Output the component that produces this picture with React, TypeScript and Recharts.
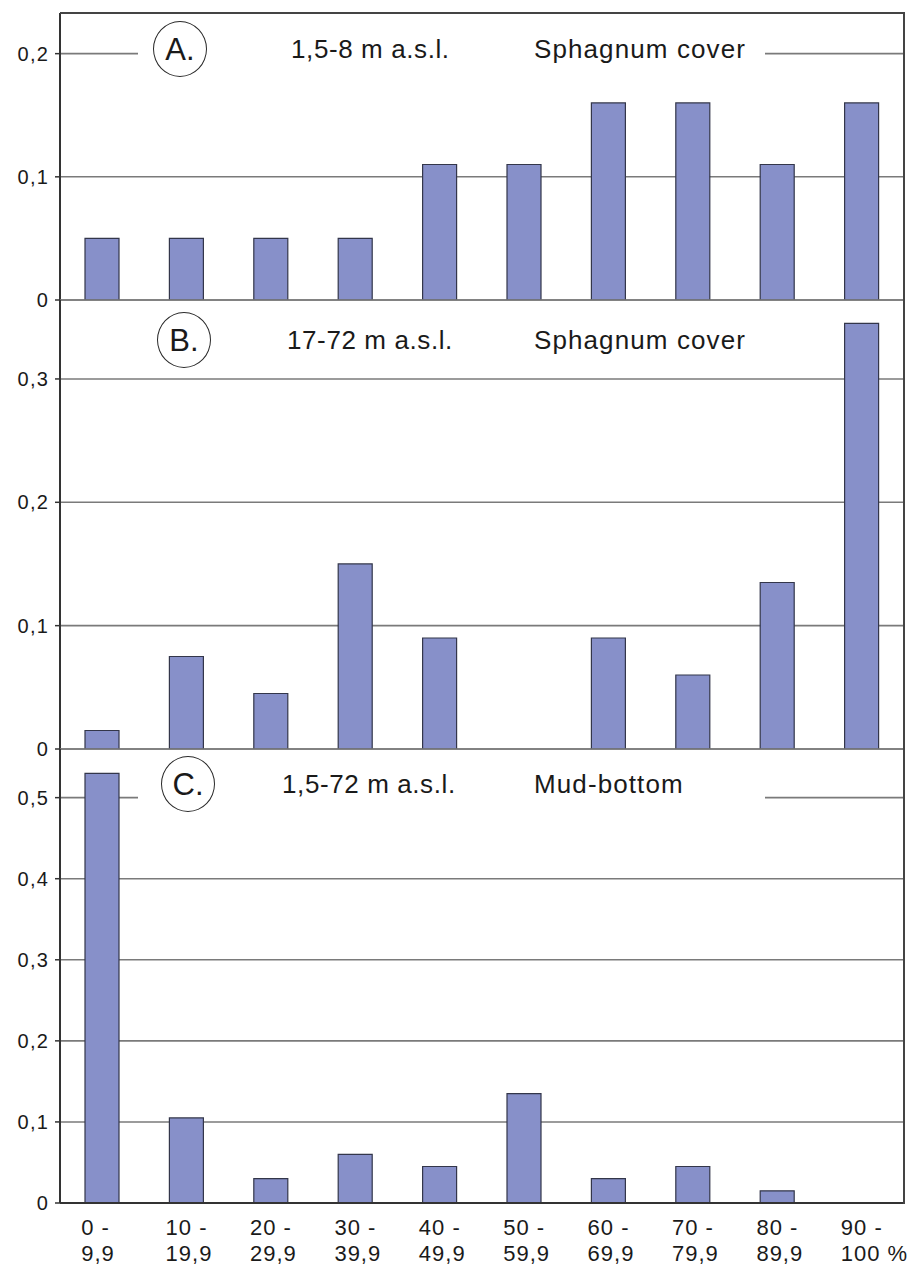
import React from 'react';
import { BarChart, Bar, XAxis, YAxis, CartesianGrid } from 'recharts';

const FONT = '"Liberation Sans", Arial, Helvetica, sans-serif';

// x categories (cover classes), two text lines each
const rangeTop = ['0 -', '10 -', '20 -', '30 -', '40 -', '50 -', '60 -', '70 -', '80 -', '90 -'];
const rangeBottom = ['9,9', '19,9', '29,9', '39,9', '49,9', '59,9', '69,9', '79,9', '89,9', '100 %'];

// relative frequencies
const panelA = [0.05, 0.05, 0.05, 0.05, 0.11, 0.11, 0.16, 0.16, 0.11, 0.16];
const panelB = [0.015, 0.075, 0.045, 0.15, 0.09, 0, 0.09, 0.06, 0.135, 0.345];
const panelC = [0.53, 0.105, 0.03, 0.06, 0.045, 0.135, 0.03, 0.045, 0.015, 0];

const ticksA = [0, 0.1, 0.2];
const ticksB = [0, 0.1, 0.2, 0.3];
const ticksC = [0, 0.1, 0.2, 0.3, 0.4, 0.5];

const rows = (vals: number[]) =>
  rangeTop.map((t, i) => ({ top: t, bottom: rangeBottom[i], v: vals[i] }));

const fmt = (v: number) => String(v).replace('.', ',');

const RangeTick = (props: any) => {
  const { x, y, payload } = props;
  const i = payload.index;
  return (
    <g>
      <text x={x - 21} y={y + 32} textAnchor="start" fontSize={22} letterSpacing={1} fill="#1a1a1a" fontFamily={FONT}>
        {rangeTop[i]}
      </text>
      <text x={x - 21} y={y + 58} textAnchor="start" fontSize={22} letterSpacing={1} fill="#1a1a1a" fontFamily={FONT}>
        {rangeBottom[i]}
      </text>
    </g>
  );
};

interface PanelProps {
  vals: number[];
  top: number;
  height: number;
  mTop: number;
  mBottom: number;
  yMax: number;
  ticks: number[];
  last?: boolean;
}

const Panel = ({ vals, top, height, mTop, mBottom, yMax, ticks, last }: PanelProps) => (
  <div style={{ position: 'absolute', left: 0, top, width: 912, height }}>
    <BarChart
      width={912}
      height={height}
      data={rows(vals)}
      margin={{ top: mTop, right: 8, bottom: mBottom, left: 0 }}
      barSize={34}
    >
      <CartesianGrid vertical={false} stroke="#7a7a7a" strokeWidth={1.6} />
      <XAxis
        dataKey="top"
        height={last ? 65 : 0}
        interval={0}
        axisLine={{ stroke: '#333', strokeWidth: 2 }}
        tickLine={false}
        tickSize={0}
        tickMargin={0}
        tick={last ? <RangeTick /> : false}
      />
      <YAxis
        width={60}
        domain={[0, yMax]}
        ticks={ticks}
        allowDataOverflow
        tickFormatter={fmt}
        axisLine={{ stroke: '#333', strokeWidth: 2 }}
        tickLine={{ stroke: '#333', strokeWidth: 1.5 }}
        tickSize={5}
        tickMargin={6}
        tick={{ fontSize: 20, fill: '#1a1a1a', fontFamily: FONT, letterSpacing: 1.2 }}
      />
      <Bar dataKey="v" fill="#8790c9" stroke="#33364a" strokeWidth={1.2} isAnimationActive={false} />
    </BarChart>
  </div>
);

const Label = ({ letter, cx, cy, placeX, place, kind }: { letter: string; cx: number; cy: number; placeX: number; place: string; kind: string }) => (
  <>
    <div style={{ position: 'absolute', left: 138, top: cy - 28, width: 627, height: 58, background: '#fff' }} />
    <div
      style={{
        position: 'absolute', left: cx - 27, top: cy - 28, width: 54, height: 56, boxSizing: 'border-box',
        border: '1.6px solid #2a2a2a', borderRadius: '50%', display: 'flex', alignItems: 'center',
        justifyContent: 'center', fontFamily: FONT, fontSize: 31, color: '#1a1a1a', lineHeight: '31px',
      }}
    >
      {letter}
    </div>
    <div style={{ position: 'absolute', left: placeX, top: cy - 13, fontFamily: FONT, fontSize: 26, lineHeight: '26px', letterSpacing: 0.6, color: '#1a1a1a', whiteSpace: 'nowrap' }}>
      {place}
    </div>
    <div style={{ position: 'absolute', left: 534, top: cy - 13, fontFamily: FONT, fontSize: 26, lineHeight: '26px', letterSpacing: 1.1, color: '#1a1a1a', whiteSpace: 'nowrap' }}>
      {kind}
    </div>
  </>
);

export default function App() {
  return (
    <div style={{ position: 'absolute', left: 0, top: 0, width: 912, height: 1268, background: '#fff', overflow: 'hidden' }}>
      <Panel vals={panelA} top={0} height={320} mTop={13} mBottom={20} yMax={0.233} ticks={ticksA} />
      <Panel vals={panelB} top={280} height={489} mTop={20} mBottom={20} yMax={0.364} ticks={ticksB} />
      <Panel vals={panelC} top={729} height={539} mTop={20} mBottom={0} yMax={0.56} ticks={ticksC} last />
      <div style={{ position: 'absolute', left: 60, top: 12, width: 845, height: 1192, boxSizing: 'border-box', borderTop: '2px solid #444', borderRight: '2px solid #444' }} />
      <Label letter="A." cx={180} cy={49} placeX={291} place="1,5-8 m a.s.l." kind="Sphagnum cover" />
      <Label letter="B." cx={184} cy={340} placeX={287} place="17-72 m a.s.l." kind="Sphagnum cover" />
      <Label letter="C." cx={188} cy={784} placeX={282} place="1,5-72 m a.s.l." kind="Mud-bottom" />
    </div>
  );
}
